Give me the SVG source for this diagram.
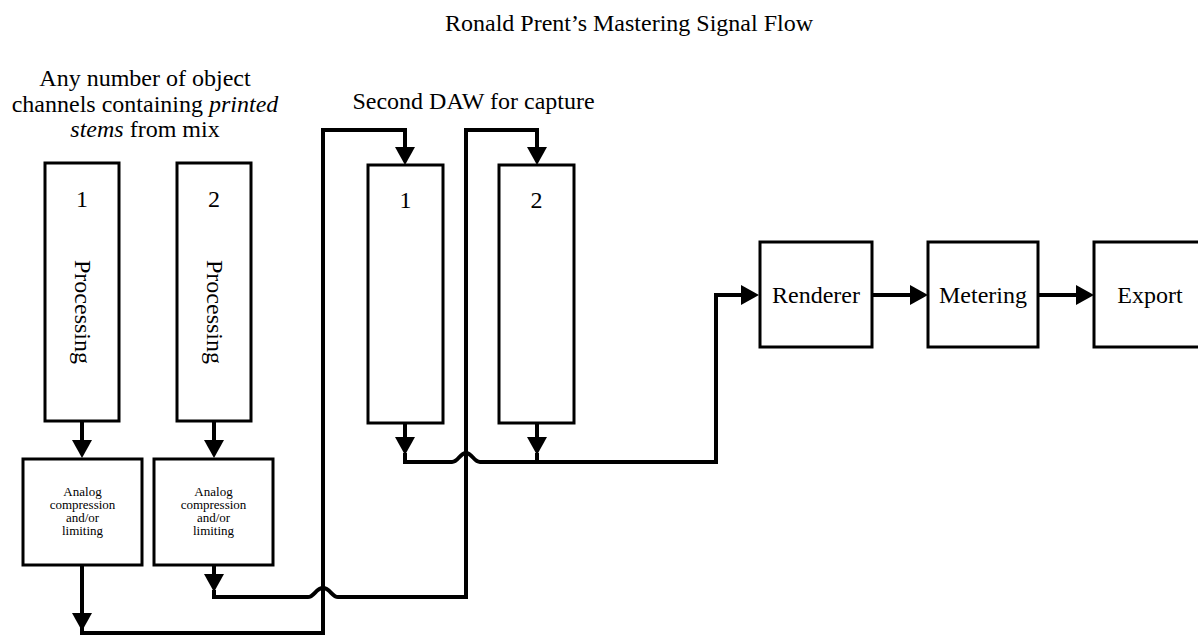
<svg xmlns="http://www.w3.org/2000/svg" width="1198" height="639" viewBox="0 0 1198 639">
<style>
.box{fill:#fff;stroke:#000;stroke-width:3}
.t{font-family:"Liberation Serif","Times New Roman",serif;fill:#000}
.big{font-size:24px}
.sm{font-size:13px}
.c{text-anchor:middle}
.ln{fill:none;stroke:#000;stroke-width:4;stroke-linejoin:miter}
</style>
<defs>
<marker id="ah" markerUnits="userSpaceOnUse" markerWidth="18" markerHeight="20" viewBox="0 0 18 20" refX="0" refY="10" orient="auto">
<path d="M0,0 L18,10 L0,20 Z" fill="#000"/>
</marker>
</defs>
<rect width="1198" height="639" fill="#fff"/>
<text class="t big" x="445" y="31">Ronald Prent’s Mastering Signal Flow</text>
<text class="t big c" x="145" y="86">Any number of object</text>
<text class="t big c" x="145" y="112">channels containing <tspan font-style="italic">printed</tspan></text>
<text class="t big c" x="145" y="137"><tspan font-style="italic">stems</tspan> from mix</text>
<text class="t big c" x="473.5" y="109">Second DAW for capture</text>

<g id="connectors">
<path class="ln" d="M82,421 V440" marker-end="url(#ah)"/>
<path class="ln" d="M214,421 V440" marker-end="url(#ah)"/>
<path class="ln" d="M82,565 V613" marker-end="url(#ah)"/>
<path class="ln" d="M82,611 V633 H323 V130 H405 V147" marker-end="url(#ah)"/>
<path class="ln" d="M214,565 V574" marker-end="url(#ah)"/>
<path class="ln" d="M214,590 V597 H308 C314,597 316,588 323,588 C330,588 332,597 338,597 H466 V130 H537 V147" marker-end="url(#ah)"/>
<path class="ln" d="M405,423 V437" marker-end="url(#ah)"/>
<path class="ln" d="M537,423 V437" marker-end="url(#ah)"/>
<path class="ln" d="M537,453 V462"/>
<path class="ln" d="M405,453 V462 H452 C458,462 460,453 466,453 C472,453 474,462 480,462 H716 V295 H741" marker-end="url(#ah)"/>
<path class="ln" d="M872,295 H910" marker-end="url(#ah)"/>
<path class="ln" d="M1038,295 H1076" marker-end="url(#ah)"/>
</g>

<g id="proc1">
<rect class="box" x="45" y="163" width="74" height="258"/>
<text class="t big c" x="82" y="207">1</text>
<text class="t big c" transform="translate(75,312) rotate(90)">Processing</text>
</g>
<g id="proc2">
<rect class="box" x="177" y="163" width="74" height="258"/>
<text class="t big c" x="214" y="207">2</text>
<text class="t big c" transform="translate(207,312) rotate(90)">Processing</text>
</g>
<g id="analog1">
<rect class="box" x="23" y="459" width="119" height="106"/>
<text class="t sm c" x="82.5" y="496">Analog</text>
<text class="t sm c" x="82.5" y="509">compression</text>
<text class="t sm c" x="82.5" y="522">and/or</text>
<text class="t sm c" x="82.5" y="535">limiting</text>
</g>
<g id="analog2">
<rect class="box" x="154" y="459" width="119" height="106"/>
<text class="t sm c" x="213.5" y="496">Analog</text>
<text class="t sm c" x="213.5" y="509">compression</text>
<text class="t sm c" x="213.5" y="522">and/or</text>
<text class="t sm c" x="213.5" y="535">limiting</text>
</g>
<g id="daw1">
<rect class="box" x="368" y="165" width="75" height="258"/>
<text class="t big c" x="405.5" y="208">1</text>
</g>
<g id="daw2">
<rect class="box" x="499" y="165" width="75" height="258"/>
<text class="t big c" x="536.5" y="208">2</text>
</g>
<g id="renderer">
<rect class="box" x="760" y="242" width="112" height="105"/>
<text class="t big c" x="816" y="303">Renderer</text>
</g>
<g id="metering">
<rect class="box" x="928" y="242" width="110" height="105"/>
<text class="t big c" x="983" y="303">Metering</text>
</g>
<g id="export">
<rect class="box" x="1094" y="242" width="112" height="105"/>
<text class="t big c" x="1150" y="303">Export</text>
</g>
</svg>
